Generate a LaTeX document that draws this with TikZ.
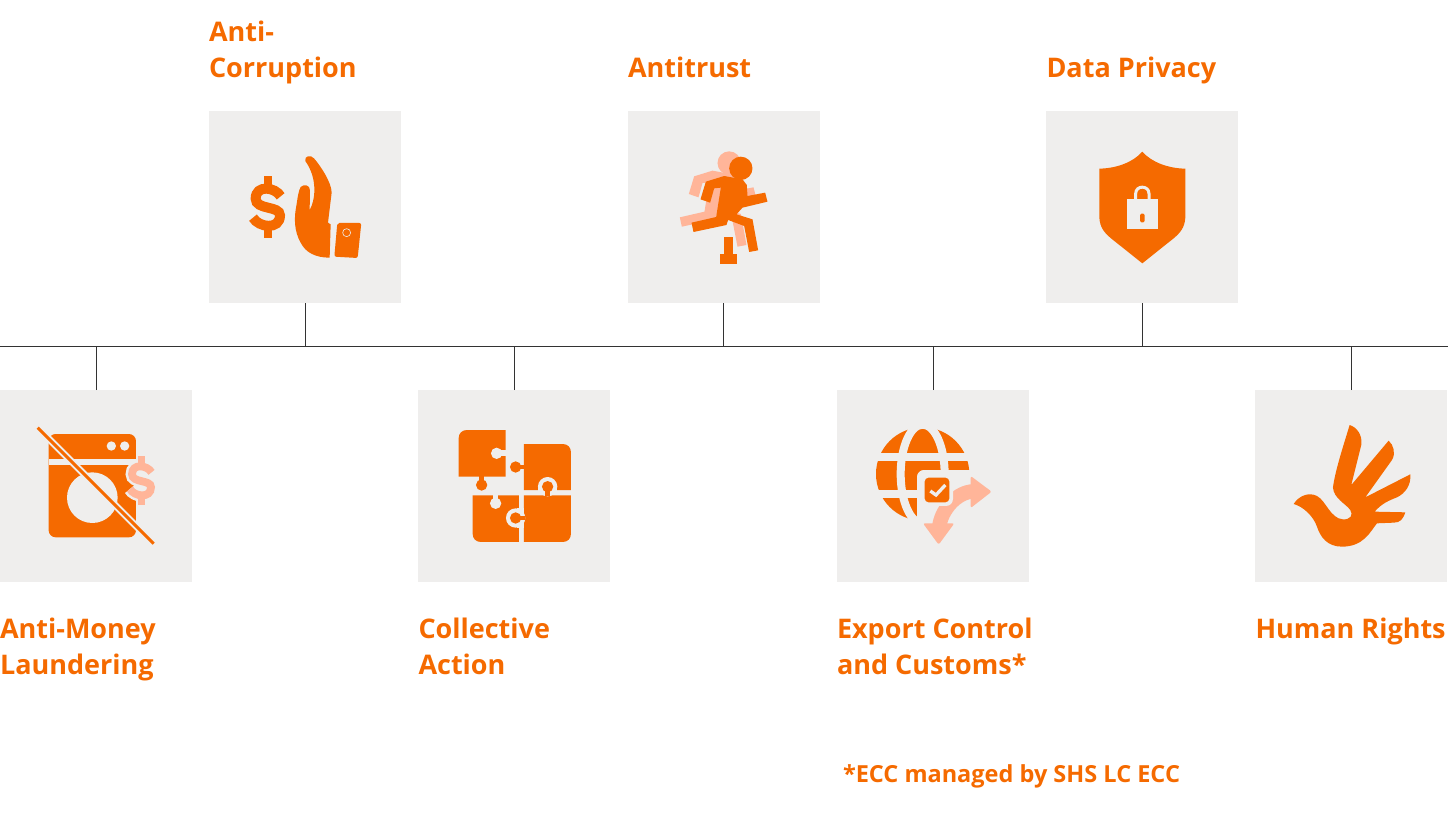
\documentclass[tikz,border=0pt]{standalone}
\usepackage{fontspec}
\setmainfont{Open Sans}
\definecolor{orng}{HTML}{F56A00}
\definecolor{lite}{HTML}{FFB599}
\definecolor{boxc}{HTML}{EFEEED}
\definecolor{linec}{HTML}{333333}
\tikzset{
  tile/.style={fill=boxc,draw=none,minimum size=192pt,inner sep=0,outer sep=0,anchor=north west},
  stem/.style={draw=linec,line width=1pt},
  title/.style={text=orng,font=\fontsize{27}{36}\selectfont\bfseries,inner sep=0,outer sep=0,anchor=base west,align=left},
  foot/.style={text=orng,font=\fontsize{23.5}{30}\selectfont\bfseries,inner sep=0,outer sep=0,anchor=base west},
  icon/.style={shift={(#1)},x=0.3333pt,y=-0.3333pt},
}
\newcommand{\dollarpath}[3]{% colour, extra width, scale
  \begin{scope}[scale=#3]
    \draw[#1,line width=#3*10pt+#2]
      (38,-32) .. controls (22,-60) and (-37,-68) .. (-37,-25)
      .. controls (-37,10) and (36,-5) .. (36,25)
      .. controls (36,70) and (-28,62) .. (-45,32);
    \draw[#1,line width=#3*8.7pt+#2] (0,-93) -- (0,-55) (0,55) -- (0,93);
  \end{scope}}
\newcommand{\runnerpath}[1]{%
  \fill[#1] (340,172) circle (35);
  \fill[#1] (219,265) -- (235,212) -- (290,195) -- (345,205) -- (358,222) -- (360,255) -- (413,245) -- (420,272)
    -- (345,290) -- (327,310) -- (375,325) -- (392,418) -- (365,423) -- (350,345) -- (302,327)
    -- (297,342) -- (198,363) -- (192,335) -- (266,318) -- (280,230) -- (260,232) -- (248,275) -- cycle;}
\begin{document}
\begin{tikzpicture}[x=1pt,y=-1pt]
\useasboundingbox (0,0) rectangle (1448,815);
\coordinate (trunkL) at (0,346);
\coordinate (trunkR) at (1448,346);
% tiles
\node[tile] (ac) at (209,111) {};
\node[tile] (at) at (627.5,111) {};
\node[tile] (dp) at (1046,111) {};
\node[tile] (am) at (0,390) {};
\node[tile] (ca) at (418.3,390) {};
\node[tile] (ec) at (837,390) {};
\node[tile] (hr) at (1255.3,390) {};
% connectors
\draw[stem] (trunkL) -- (trunkR);
\foreach \n in {ac,at,dp} \draw[stem] (\n.south) -- (\n.south |- trunkL);
\foreach \n in {am,ca,ec,hr} \draw[stem] (\n.north) -- (\n.north |- trunkL);
% titles (base anchor sits on the last line)
\node[title] (tac) at (209,77) {Anti-\\Corruption};
\node[title] (tat) at (628,77) {Antitrust};
\node[title] (tdp) at (1046.5,77) {Data Privacy};
\node[title] (tam) at (0,674) {Anti-Money\\Laundering};
\node[title] (tca) at (418.5,674) {Collective\\Action};
\node[title] (tec) at (837,674) {Export Control\\and Customs*};
\node[title] (thr) at (1255.5,638) {Human Rights};
\node[foot] (fn) at (843,782) {*ECC managed by SHS LC ECC};
% Anti-corruption icon
\begin{scope}[icon={209,111}]
  \begin{scope}[shift={(177,288)}]
    \dollarpath{orng}{0pt}{1}
  \end{scope}
  \fill[orng] (289,150) .. controls (285,135) and (305,130) .. (315,142)
    .. controls (335,165) and (368,215) .. (368,245) -- (357,335) -- (365,340) -- (362,440)
    .. controls (320,440) and (290,425) .. (275,395)
    .. controls (255,360) and (255,320) .. (262,285)
    .. controls (266,260) and (268,240) .. (275,228)
    .. controls (285,218) and (303,222) .. (303,238) -- (302,297)
    .. controls (318,270) and (328,205) .. (289,150) -- cycle;
  \fill[orng,rounded corners=2pt] (385,336) -- (457,336) -- (446,441) -- (376,437) -- cycle;
  \draw[boxc,line width=0.6pt] (413,365) circle (12);
\end{scope}
% Antitrust icon
\begin{scope}[icon={627.5,111}]
  \begin{scope}[shift={(-35,-16)}]\runnerpath{lite}\end{scope}
  \runnerpath{orng}
  \fill[orng] (290,377) rectangle (317,432);
  \fill[orng] (277,430) rectangle (330,458);
\end{scope}
% Data privacy icon
\begin{scope}[icon={1046,111}]
  \fill[orng] (289,122) .. controls (260,155) and (210,172) .. (160,173) -- (160,320)
    .. controls (162,350) and (175,365) .. (195,382) -- (289,457) -- (383,382)
    .. controls (403,365) and (416,350) .. (418,320) -- (418,173)
    .. controls (368,172) and (318,155) .. (289,122) -- cycle;
  \fill[boxc] (243,264) rectangle (335,354);
  \draw[boxc,line width=3pt] (269,266) -- (269,248) .. controls (269,222) and (309,222) .. (309,248) -- (309,266);
  \fill[orng,rounded corners=1.5pt] (282,308) rectangle (296,334);
\end{scope}
% Anti-money-laundering icon
\begin{scope}[icon={0,390}]
  \fill[orng,rounded corners=7pt] (146,132) rectangle (408,442);
  \fill[boxc] (146,207) rectangle (408,224);
  \fill[boxc] (334,168) circle (14);
  \fill[boxc] (374,168) circle (14);
  \fill[boxc] (277,323) circle (76);
  \begin{scope}[shift={(425,272)}]
    \dollarpath{boxc}{5pt}{0.78}\dollarpath{lite}{0pt}{0.78}
  \end{scope}
  \draw[boxc,line width=7pt] (135,135) -- (440,440);
  \draw[orng,line width=3pt] (113,113) -- (461,461);
\end{scope}
% Collective action icon
\begin{scope}[icon={418.3,390}]
  % top left
  \fill[orng] (121,260) -- (121,145) .. controls (121,130) and (131,120) .. (146,120) -- (262,120) -- (262,260) -- cycle;
  \fill[boxc] (235,190) circle (17);
  \fill[boxc] (235,181) rectangle (263,199);
  \fill[orng] (190,285) circle (17);
  \fill[orng] (183,255) rectangle (197,275);
  % top right
  \fill[orng] (317,300) -- (317,162) -- (433,162) .. controls (448,162) and (458,172) .. (458,187) -- (458,300) -- cycle;
  \fill[orng] (292,231) circle (17);
  \fill[orng] (300,224) rectangle (320,238);
  % bottom left
  \fill[orng] (302,316) -- (302,456) -- (188,456) .. controls (173,456) and (163,446) .. (163,431) -- (163,316) -- cycle;
  \fill[boxc] (232,340) circle (17);
  \fill[boxc] (224,315) rectangle (240,330);
  % bottom right
  \fill[orng] (317,316) -- (317,456) -- (433,456) .. controls (448,456) and (458,446) .. (458,431) -- (458,316) -- cycle;
  \fill[boxc] (388,290) circle (29);
  \fill[boxc] (359,295) rectangle (417,316);
  \fill[boxc] (292,384) circle (29);
  \fill[boxc] (297,355) rectangle (317,413);
  \fill[orng] (388,290) circle (17);
  \fill[orng] (381,295) rectangle (395,318);
  \fill[orng] (292,384) circle (17);
  \fill[orng] (297,377) rectangle (320,391);
\end{scope}
% Export control icon
\begin{scope}[icon={837,390}]
  \fill[orng] (257,252) circle (140);
  \draw[boxc,line width=8pt] (100,202) -- (410,202);
  \draw[boxc,line width=8pt] (100,312.5) -- (410,312.5);
  \draw[boxc,line width=8pt] (257,252) ellipse [x radius=66,y radius=148];
  \fill[boxc,rounded corners=8pt] (240,240) rectangle (420,410);
  \fill[boxc] (300,300) rectangle (420,410);
  \draw[lite,line width=14.5pt] (307,410) .. controls (312,360) and (360,304) .. (412,304);
  \fill[lite,rounded corners=2pt] (464,305) -- (401,258) -- (401,354) -- cycle;
  \fill[lite,rounded corners=2pt] (305,464) -- (258,400) -- (352,400) -- cycle;
  \fill[boxc,rounded corners=7pt] (240,240) rectangle (348,348);
  \fill[orng,rounded corners=4pt] (263,263) rectangle (337,337);
  \draw[boxc,line width=3.3pt] (280,303) -- (297,315) -- (325,285);
\end{scope}
% Human rights icon
\begin{scope}[icon={1255.3,390}]
  \fill[orng] (115,342) .. controls (130,318) and (160,305) .. (185,318)
    .. controls (212,332) and (225,385) .. (262,388)
    .. controls (285,390) and (295,375) .. (285,360)
    .. controls (270,340) and (235,325) .. (233,292)
    .. controls (240,240) and (265,165) .. (283,105) .. controls (305,112) and (322,135) .. (318,165)
    -- (288,285) -- (400,152) .. controls (415,165) and (422,190) .. (410,210)
    -- (330,322) -- (465,253) .. controls (468,285) and (450,310) .. (425,322)
    .. controls (400,332) and (380,340) .. (358,365)
    -- (450,367) .. controls (443,388) and (435,398) .. (415,398)
    -- (365,400) .. controls (345,425) and (325,470) .. (260,470)
    .. controls (215,470) and (195,440) .. (185,410)
    .. controls (175,380) and (145,350) .. (115,342) -- cycle;
\end{scope}
\end{tikzpicture}
\end{document}
